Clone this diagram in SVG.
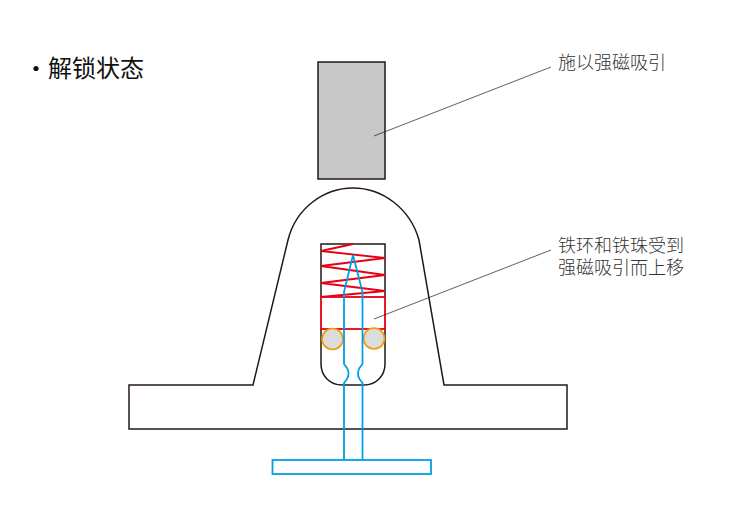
<svg xmlns="http://www.w3.org/2000/svg" width="750" height="530" viewBox="0 0 750 530">
<style>
.bk{fill:none;stroke:#231815;stroke-width:1.5}
.bl{fill:none;stroke:#00a0e9;stroke-width:1.8}
.rd{fill:none;stroke:#e60012;stroke-width:1.8}
.ball{fill:#dcdcdc;stroke:#f39800;stroke-width:1.6}
.lead{fill:none;stroke:#231815;stroke-width:.7}
.t{font-family:"Noto Sans CJK SC","Noto Sans",sans-serif;fill:#333;font-size:18px;font-weight:300}
.h{font-family:"Noto Sans CJK SC","Noto Sans",sans-serif;fill:#111;font-size:24px}
</style>
<rect width="750" height="530" fill="#fff"/>
<g id="title"><circle cx="36" cy="68.500" r="2.600" fill="#111"/><text class="h" x="48" y="77">解锁状态</text></g>
<g id="magnet"><rect x="318" y="62" width="67" height="117" fill="#c8c8c8" stroke="#231815" stroke-width="1.5"/></g>
<g id="body">
<path class="bk" d="M129 385H253L288 240C296 208 324 188 353 188C382 188 410 208 419 240L444 385H567V429H129Z"/>
<path class="bk" d="M321 297V244H385V297M321 329V364C321 376 330 385 342 385H364C376 385 385 376 385 364V329"/>
</g>
<g id="spring"><path class="rd" d="M353 244L321 251L385 258L321 266L385 275L321 283L385 291L321 297"/></g>
<g id="iron-ring"><rect class="rd" x="321" y="297" width="64" height="32"/></g>
<g id="ball-left"><circle class="ball" cx="332.500" cy="339" r="10.500"/></g>
<g id="ball-right"><circle class="ball" cx="374" cy="338.500" r="10.500"/></g>
<g id="pin">
<path class="bl" d="M344 460V383L347 379C349 376 349 371 347 368L344 364V292L353 255L362.500 292V364L359.500 368C357.500 371 357.500 376 359.500 379L362.500 383V460"/>
<rect class="bl" x="272.500" y="460" width="158.500" height="14"/>
</g>
<g id="connectors">
<path class="lead" d="M374 136L551 67"/>
<path class="lead" d="M374 319L551 250"/>
</g>
<g id="label-1"><text class="t" x="558" y="69">施以强磁吸引</text></g>
<g id="label-2"><text class="t"><tspan x="558" y="252">铁环和铁珠受到</tspan><tspan x="558" y="274">强磁吸引而上移</tspan></text></g>
</svg>
